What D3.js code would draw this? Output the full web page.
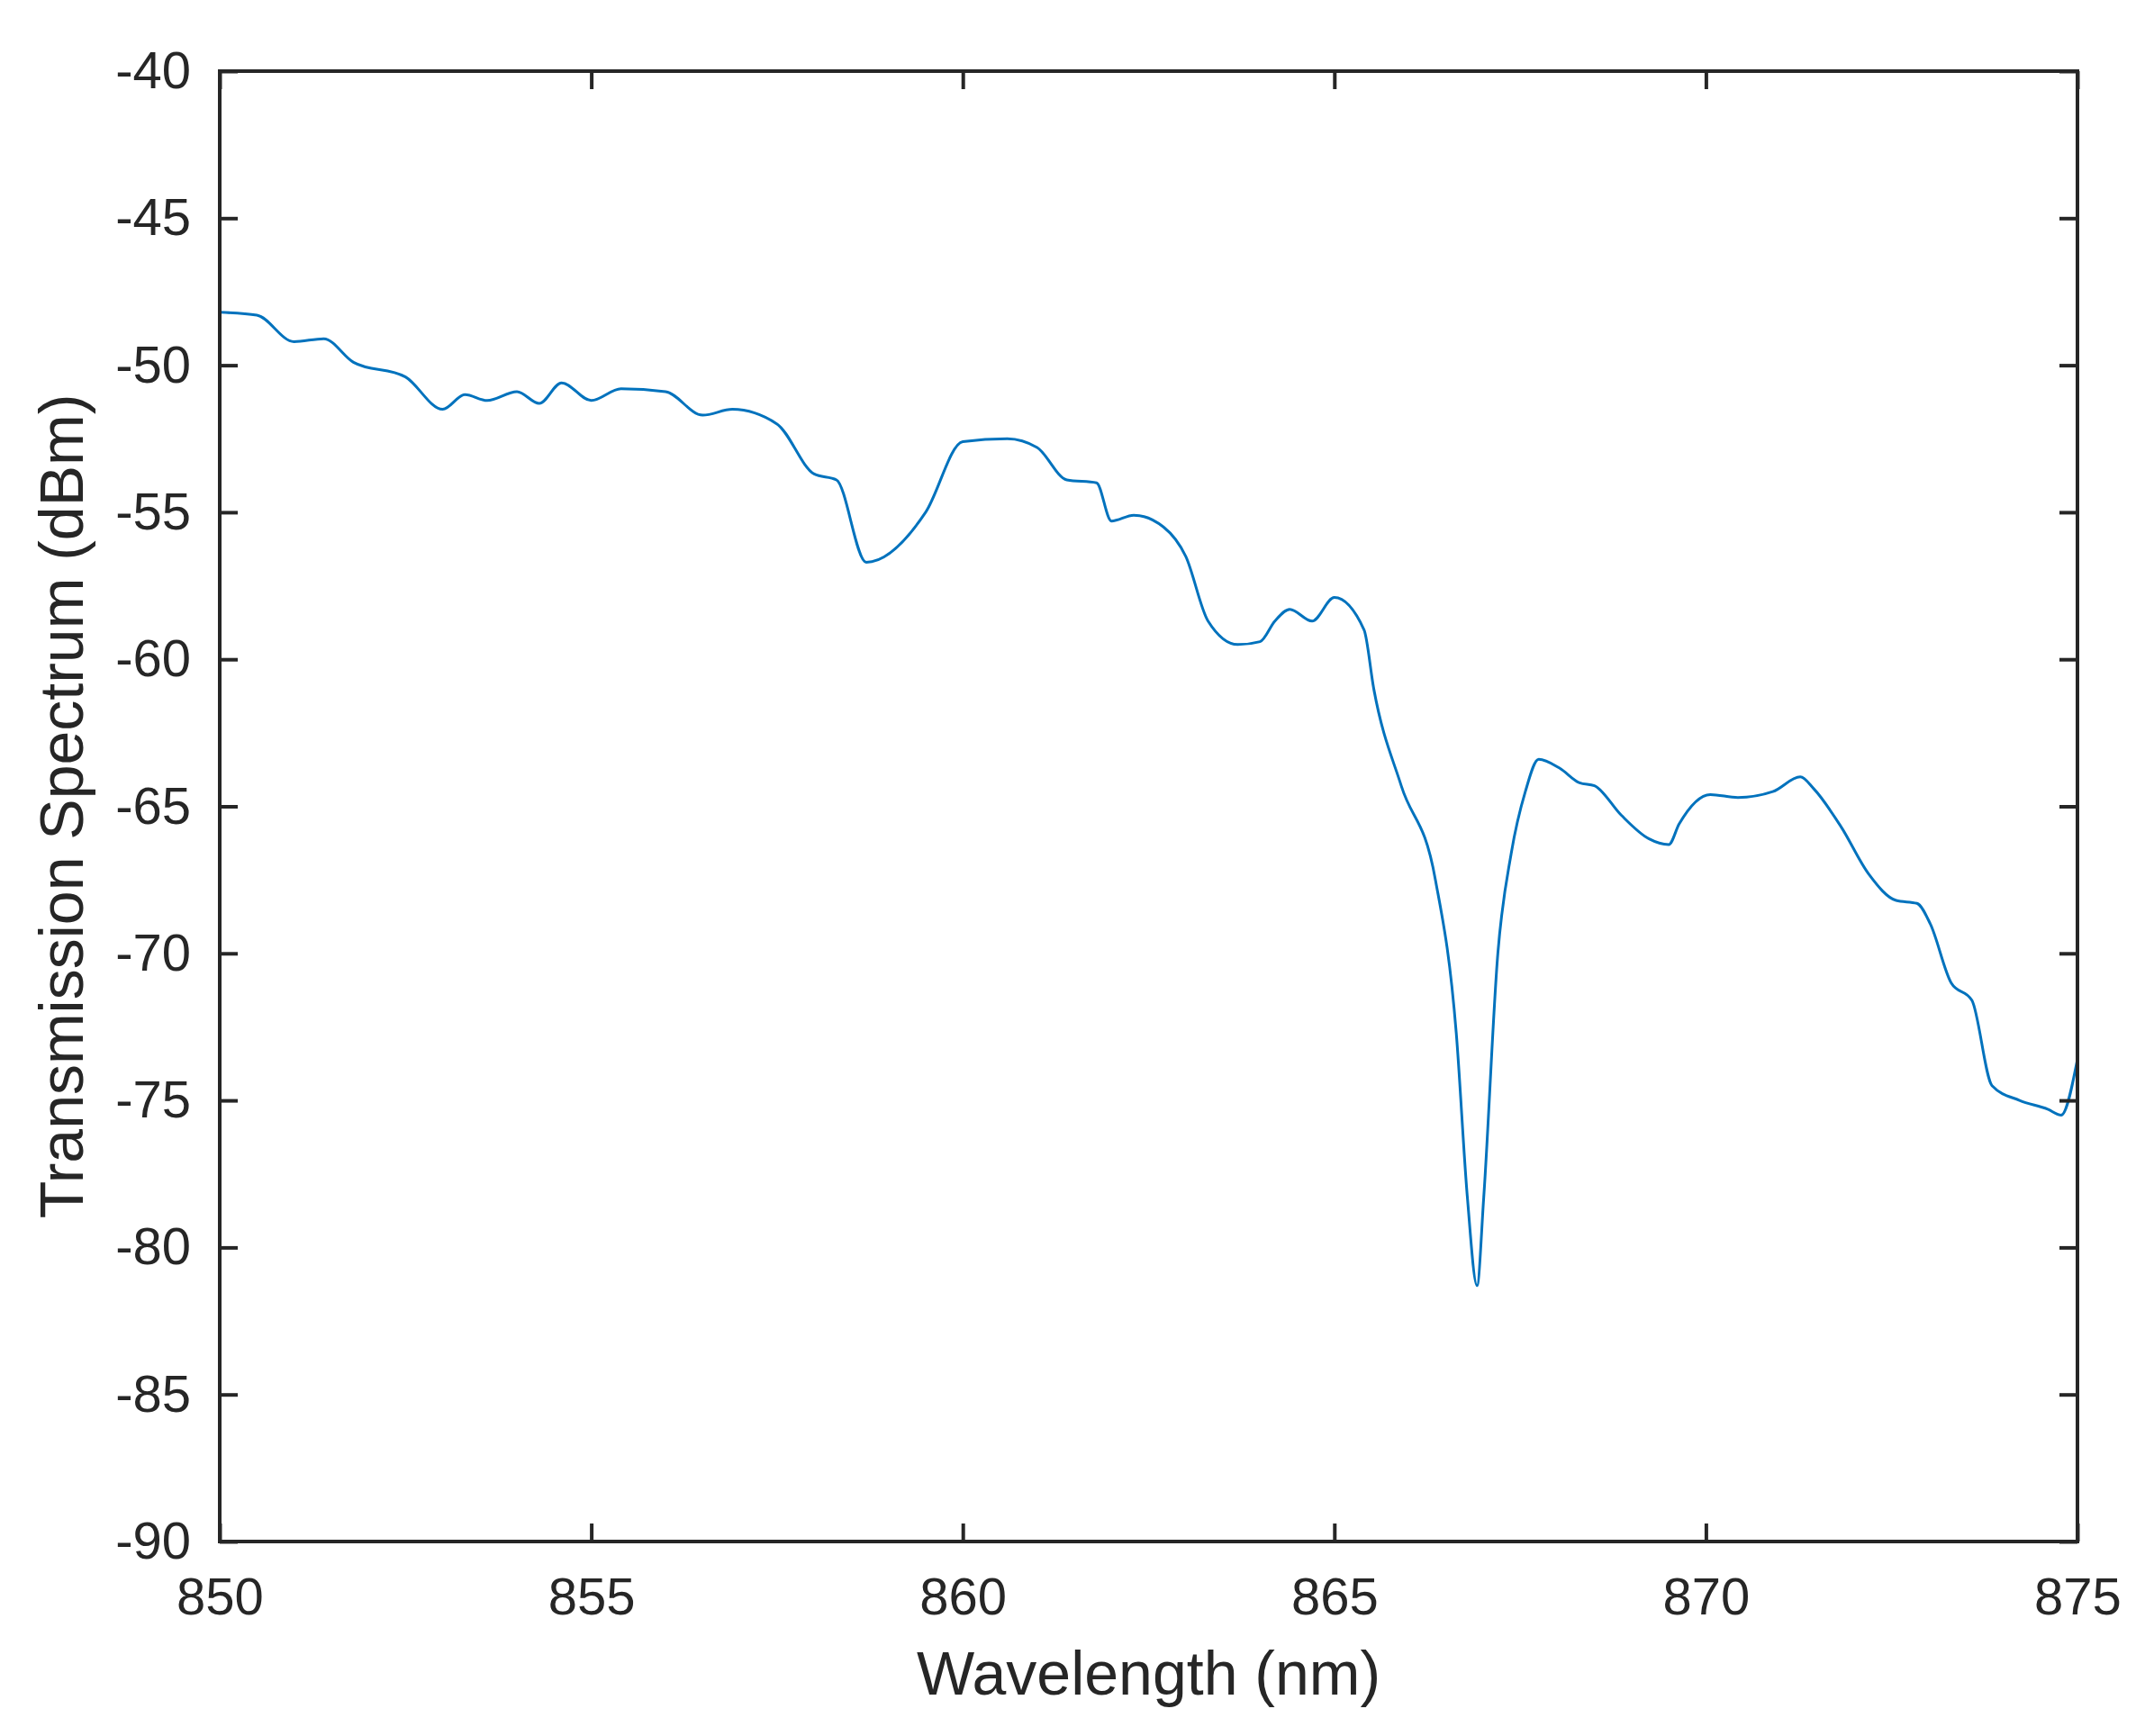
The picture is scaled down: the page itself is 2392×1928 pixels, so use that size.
<!DOCTYPE html>
<html><head><meta charset="utf-8">
<script src="https://cdn.jsdelivr.net/npm/d3@7"></script>
<style>body{margin:0;background:#fff}svg{display:block}text{font-family:"Liberation Sans",Arial,sans-serif;fill:#262626}</style>
</head><body><svg id="c" width="2392" height="1928"></svg>
<script>
const wavelength = [850,850.5,851,851.4,851.8,852.5,853,853.3,853.6,854,854.3,854.6,855,855.4,856,856.5,856.9,857.5,858,858.3,858.7,859.5,860,860.6,861,861.4,861.8,862,862.3,862.7,863,863.3,863.7,864,864.2,864.4,864.7,865,865.4,865.53,865.9,866.36,866.64,866.79,866.92,867.01,867.2,867.38,867.57,867.75,868.03,868.3,868.5,868.86,869.23,869.5,869.64,870.06,870.43,870.9,871.27,871.45,871.82,872.19,872.56,872.84,873.02,873.3,873.58,873.85,874.22,874.6,874.78,875];
const power = [-48.2,-48.3,-49.2,-49.1,-49.9,-50.4,-51.5,-51.0,-51.2,-50.9,-51.3,-50.6,-51.2,-50.8,-50.9,-51.7,-51.5,-52.0,-53.7,-53.9,-56.7,-55.0,-52.6,-52.5,-52.8,-53.9,-54.0,-55.3,-55.1,-55.5,-56.5,-58.7,-59.5,-59.4,-58.7,-58.3,-58.7,-57.9,-59.0,-61.0,-64.3,-67.5,-72.7,-78.3,-81.3,-78.3,-70.0,-66.6,-64.5,-63.4,-63.7,-64.2,-64.3,-65.3,-66.1,-66.3,-65.6,-64.6,-64.7,-64.5,-64.0,-64.4,-65.7,-67.3,-68.2,-68.3,-69.0,-71.0,-71.6,-74.5,-75.0,-75.3,-75.5,-73.6];
const xTicks = [850,855,860,865,870,875];
const yTicks = [-90,-85,-80,-75,-70,-65,-60,-55,-50,-45,-40];

const L=244,R=2307,T=79,B=1712;
const svg=d3.select("#c");
const x=d3.scaleLinear().domain([850,875]).range([L,R]);
const y=d3.scaleLinear().domain([-90,-40]).range([B,T]);
const data=wavelength.map((w,i)=>[w,power[i]]);
svg.append("path").datum(data).attr("fill","none").attr("stroke","#0072BD").attr("stroke-width",3)
  .attr("d",d3.line().x(d=>x(d[0])).y(d=>y(d[1])).curve(d3.curveMonotoneX));
const fs=58;
function styleAxis(g){g.select(".domain").remove();g.selectAll("line").attr("stroke","#262626").attr("stroke-width",4);g.selectAll("text").style("font-size",fs+"px").attr("fill","#262626");}
svg.append("g").attr("transform",`translate(0,${B})`).call(d3.axisBottom(x).tickValues(xTicks).tickSize(-20).tickPadding(40).tickFormat(d=>String(d))).call(styleAxis);
svg.append("g").attr("transform",`translate(0,${T})`).call(d3.axisTop(x).tickValues(xTicks).tickSize(-20).tickFormat("")).call(styleAxis);
svg.append("g").attr("transform",`translate(${L},0)`).call(d3.axisLeft(y).tickValues(yTicks).tickSize(-20).tickPadding(32).tickFormat(d=>String(d))).call(styleAxis);
svg.append("g").attr("transform",`translate(${R},0)`).call(d3.axisRight(y).tickValues(yTicks).tickSize(-20).tickFormat("")).call(styleAxis);
svg.append("rect").attr("x",L).attr("y",T).attr("width",R-L).attr("height",B-T).attr("fill","none").attr("stroke","#262626").attr("stroke-width",4);
svg.append("text").attr("x",(L+R)/2).attr("y",1882).attr("text-anchor","middle").style("font-size","68px").text("Wavelength (nm)");
svg.append("text").attr("transform",`translate(92,${(T+B)/2}) rotate(-90)`).attr("text-anchor","middle").style("font-size","68px").text("Transmission Spectrum (dBm)");
</script></body></html>
